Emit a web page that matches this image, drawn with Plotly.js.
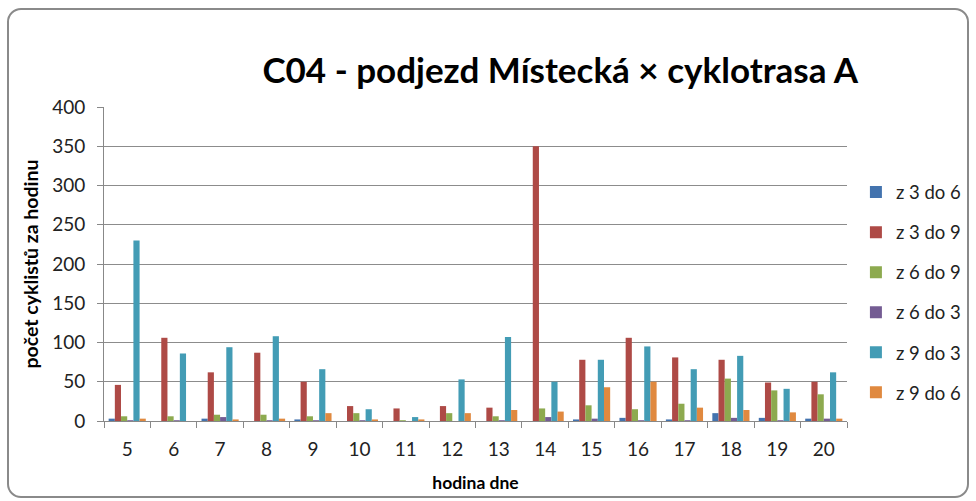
<!DOCTYPE html>
<html>
<head>
<meta charset="utf-8">
<script src="https://cdn.plot.ly/plotly-3.0.1.min.js"></script>
<style>
html,body{margin:0;padding:0;background:#fff;}
#wrap{position:relative;width:976px;height:501px;overflow:hidden;}
#chart{position:absolute;left:0;top:0;width:976px;height:501px;}
#frame{position:absolute;left:7px;top:8px;width:962px;height:490px;border:2px solid #8a8a8a;border-radius:14px;pointer-events:none;box-sizing:border-box;}
</style>
</head>
<body>
<div id="wrap"><div id="chart"></div><div id="frame"></div></div>
<script>
const hours = ["5","6","7","8","9","10","11","12","13","14","15","16","17","18","19","20"];
const z3do6 = [3,0,3,0,2,0,0,0,0,0,2,4,2,10,4,3];
const z3do9 = [46,106,62,87,50,19,16,19,17,350,78,106,81,78,49,50];
const z6do9 = [6,6,8,8,6,10,1,10,6,16,20,15,22,54,39,34];
const z6do3 = [1,1,5,1,1,1,0,0,1,5,3,1,1,4,1,3];
const z9do3 = [230,86,94,108,66,15,5,53,107,50,78,95,66,83,41,62];
const z9do6 = [3,0,2,3,10,2,2,10,14,12,43,50,17,14,11,3];

const seriesNames = ["z 3 do 6","z 3 do 9","z 6 do 9","z 6 do 3","z 9 do 3","z 9 do 6"];
const seriesData = [z3do6,z3do9,z6do9,z6do3,z9do3,z9do6];
const colors = ["#4373AE","#AE4A46","#8DAA4F","#745C93","#439CB5","#E0893F"];

const traces = seriesNames.map((n,i)=>({
  type:'bar', name:n, x:hours, y:seriesData[i],
  marker:{color:colors[i], line:{width:0}},
  legendgroup:'g'+i, hoverinfo:'x+y+name'
}));

const font = "Lato, 'Liberation Sans', sans-serif";
const layout = {
  width:976, height:501,
  margin:{l:104, r:129, t:107, b:80, autoexpand:false},
  paper_bgcolor:'rgba(0,0,0,0)', plot_bgcolor:'rgba(0,0,0,0)',
  barmode:'group', bargap:0.2, bargroupgap:0,
  font:{family:font, color:'#222', size:18},
  title:{text:'C04 - podjezd Místecká × cyklotrasa A', font:{family:font, size:35, color:'#000', weight:'bold'},
         x:0.574, xanchor:'center', y:0.858, yanchor:'middle'},
  xaxis:{type:'category', tickson:'boundaries', ticks:'outside', ticklen:6, tickcolor:'#888',
         showline:true, linecolor:'#888', linewidth:1, showgrid:false,
         tickfont:{size:19, color:'#222'}, ticklabelstandoff:11,
         title:{text:'hodina dne', font:{size:17.5, color:'#000', weight:'bold'}, standoff:17}},
  yaxis:{range:[0,400], dtick:50, tick0:0, ticks:'outside', ticklen:6, tickcolor:'#888',
         showline:true, linecolor:'#888', linewidth:1, showgrid:true, gridcolor:'#8c8c8c', gridwidth:1,
         zeroline:false, tickfont:{size:19, color:'#222'}, ticklabelstandoff:8,
         title:{text:'počet cyklistů za hodinu', font:{size:19.5, color:'#000', weight:'bold'}, standoff:8}},
  showlegend:true,
  legend:{x:1.012, y:0.788, xanchor:'left', yanchor:'top', traceorder:'grouped', tracegroupgap:13,
          font:{size:18.5, color:'#222'}, itemwidth:30, bgcolor:'rgba(0,0,0,0)'}
};
Plotly.newPlot('chart', traces, layout, {displayModeBar:false, staticPlot:true});
</script>
</body>
</html>
